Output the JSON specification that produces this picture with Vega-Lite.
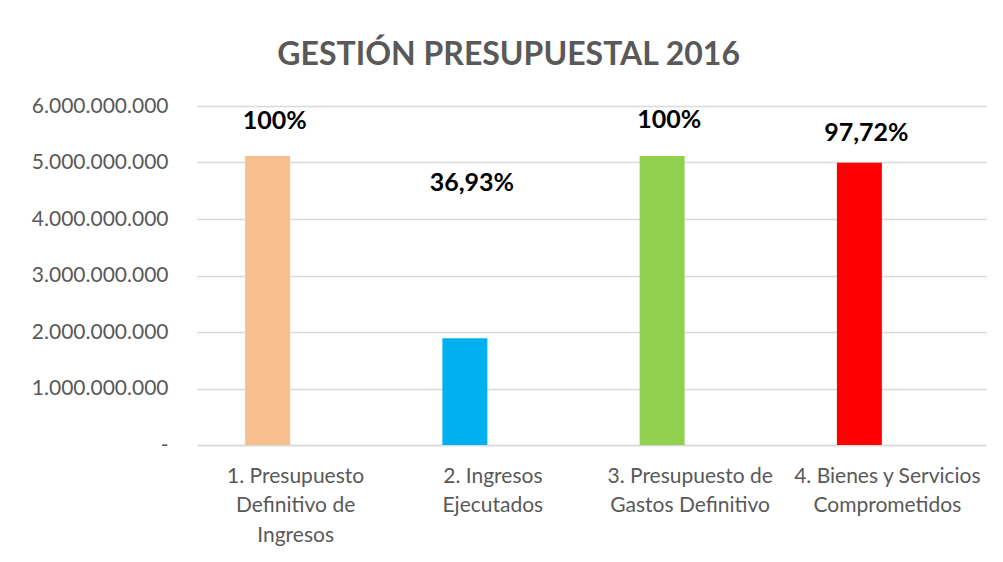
{
  "$schema": "https://vega.github.io/schema/vega-lite/v6.json",
  "width": 789,
  "height": 339,
  "padding": {"left": 31, "top": 39, "right": 15, "bottom": 5},
  "background": "white",
  "title": {
    "text": "GESTIÓN PRESUPUESTAL 2016",
    "font": "Lato",
    "fontSize": 32,
    "fontWeight": "bold",
    "color": "#595959",
    "anchor": "middle",
    "frame": "bounds",
    "offset": 23
  },
  "config": {
    "view": {"stroke": null},
    "font": "Lato",
    "locale": {"number": {"decimal": ",", "thousands": ".", "grouping": [3], "currency": ["$", ""]}}
  },
  "data": {
    "values": [
      {"categoria": "1. Presupuesto|Definitivo de|Ingresos", "valor": 5115000000, "pct": "100%", "pos": 5730000000},
      {"categoria": "2. Ingresos|Ejecutados", "valor": 1888000000, "pct": "36,93%", "pos": 4630000000},
      {"categoria": "3. Presupuesto de|Gastos Definitivo", "valor": 5115000000, "pct": "100%", "pos": 5750000000},
      {"categoria": "4. Bienes y Servicios|Comprometidos", "valor": 4996000000, "pct": "97,72%", "pos": 5520000000}
    ]
  },
  "encoding": {
    "x": {
      "field": "categoria",
      "type": "nominal",
      "sort": null,
      "title": null,
      "scale": {"paddingInner": 0.772, "paddingOuter": 0.386},
      "axis": {
        "labelAngle": 0,
        "labelExpr": "split(datum.label, '|')",
        "labelColor": "#595959",
        "labelFontSize": 21,
        "labelLineHeight": 29.5,
        "labelPadding": 20,
        "labelBaseline": "top",
        "labelLimit": 0,
        "labelOverlap": false,
        "labelBound": false,
        "ticks": false,
        "domain": true,
        "domainColor": "#D9D9D9",
        "domainWidth": 1.5
      }
    }
  },
  "layer": [
    {
      "mark": {"type": "bar", "xOffset": -28},
      "encoding": {
        "y": {
          "field": "valor",
          "type": "quantitative",
          "title": null,
          "scale": {"domain": [0, 6000000000]},
          "axis": {
            "values": [0, 1000000000, 2000000000, 3000000000, 4000000000, 5000000000, 6000000000],
            "format": ",.0f",
            "labelExpr": "datum.value == 0 ? '-\u00a0\u00a0\u00a0\u00a0' : datum.label",
            "labelColor": "#595959",
            "labelFontSize": 21,
            "labelPadding": 29,
            "ticks": false,
            "domain": false,
            "gridColor": "#D9D9D9",
            "gridWidth": 1.5
          }
        },
        "color": {
          "field": "categoria",
          "type": "nominal",
          "sort": null,
          "legend": null,
          "scale": {"range": ["#F8C08F", "#00B0F0", "#92D050", "#FF0000"]}
        }
      }
    },
    {
      "mark": {"type": "text", "fontWeight": "bold", "fontSize": 25, "color": "black", "xOffset": -21, "baseline": "middle"},
      "encoding": {
        "y": {"field": "pos", "type": "quantitative"},
        "text": {"field": "pct"}
      }
    }
  ]
}
